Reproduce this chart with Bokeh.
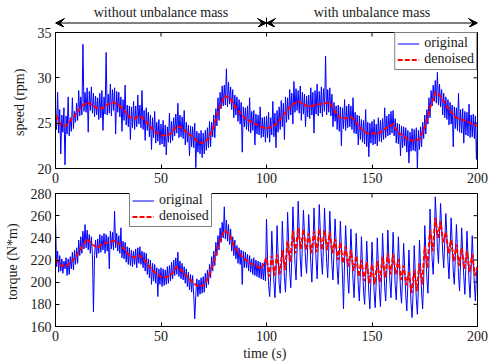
import math
import numpy as np
from bokeh.plotting import figure
from bokeh.layouts import column
from bokeh.models import (Range1d, Legend, LegendItem, Arrow, VeeHead, FixedTicker)
from bokeh.embed import file_html
from bokeh.resources import INLINE
from bokeh.core.properties import value

FONT = "'Liberation Serif', 'Times New Roman', serif"

# ---------------- data ----------------
segment_edges = [0, 100, 200]
segment_labels = ["without unbalance mass", "with unbalance mass"]

x_ticks = [0, 50, 100, 150, 200]
speed_ticks = [20, 25, 30, 35]
torque_ticks = [160, 180, 200, 220, 240, 260, 280]

speed_original = [
    26.8, 24.3, 28.4, 23.9, 26.5, 21.6, 25.9, 24.0, 26.7, 20.4, 25.8, 23.8, 27.9, 23.6, 25.6, 24.1, 27.8, 24.4, 26.3, 25.1,
    27.2, 25.3, 28.6, 25.8, 27.9, 25.9, 33.7, 26.3, 28.4, 26.2, 28.9, 24.0, 28.5, 26.4, 29.0, 26.1, 28.3, 25.7, 28.0, 25.9,
    27.8, 25.4, 28.3, 25.6, 28.6, 24.2, 27.9, 26.0, 32.8, 25.9, 28.2, 26.1, 29.3, 25.8, 28.7, 26.4, 28.9, 23.8, 28.5, 26.2,
    28.4, 25.7, 27.9, 24.1, 27.6, 25.3, 29.2, 24.8, 27.0, 24.6, 26.9, 23.2, 26.8, 24.5, 27.4, 24.3, 26.9, 24.6, 28.1, 24.9,
    27.0, 24.5, 28.6, 24.3, 26.4, 23.1, 26.7, 24.2, 26.2, 23.5, 25.9, 22.1, 25.6, 23.4, 26.3, 22.8, 25.1, 23.0, 25.4, 22.6,
    24.9, 22.7, 25.3, 22.4, 24.8, 21.5, 24.6, 22.9, 26.1, 22.8, 25.2, 23.1, 25.6, 23.6, 26.0, 23.9, 27.2, 23.4, 25.9, 23.5,
    25.7, 23.3, 26.4, 22.6, 25.1, 22.9, 24.8, 21.4, 24.7, 22.4, 24.6, 22.3, 25.0, 20.1, 24.1, 21.8, 23.9, 21.6, 24.2, 21.2,
    23.9, 21.6, 24.2, 22.0, 24.5, 22.3, 25.2, 22.4, 25.1, 23.5, 25.9, 23.4, 26.6, 24.7, 27.8, 25.3, 28.4, 26.6, 29.1, 26.9,
    29.2, 27.0, 31.0, 26.8, 29.5, 27.1, 29.0, 26.5, 28.7, 25.6, 28.1, 25.9, 27.9, 25.2, 27.6, 24.9, 27.3, 21.8, 26.8, 24.6,
    26.7, 24.3, 26.9, 24.1, 27.8, 23.9, 26.3, 24.2, 26.4, 22.6, 26.0, 23.8, 25.9, 23.7, 26.8, 23.4, 25.6, 23.5, 25.7, 22.9,
    25.8, 23.4, 26.2, 22.9, 25.6, 23.7, 27.4, 23.5, 26.1, 22.3, 26.4, 24.0, 26.8, 24.3, 27.5, 24.6, 27.2, 23.2, 27.9, 25.1,
    27.8, 25.4, 28.7, 25.9, 28.3, 24.9, 29.6, 26.2, 28.8, 26.4, 28.6, 26.1, 29.1, 25.3, 28.4, 26.0, 28.2, 24.6, 28.0, 25.7,
    28.1, 25.5, 28.9, 25.9, 28.4, 23.9, 28.6, 26.0, 29.3, 25.8, 28.5, 26.1, 29.0, 25.7, 28.8, 26.3, 32.4, 25.9, 28.7, 26.2,
    28.9, 25.8, 28.2, 24.6, 27.3, 25.2, 26.9, 24.3, 27.0, 24.1, 26.8, 22.5, 26.7, 24.4, 27.6, 24.2, 26.9, 24.5, 27.1, 24.6,
    26.9, 24.3, 27.8, 23.9, 26.2, 23.8, 25.9, 22.6, 25.8, 23.2, 25.4, 22.9, 25.3, 22.7, 26.5, 22.4, 25.1, 21.3, 25.0, 22.8,
    25.2, 22.6, 25.4, 22.7, 24.9, 22.5, 25.6, 23.0, 25.3, 22.9, 25.5, 23.2, 26.7, 23.4, 25.8, 23.6, 26.0, 23.7, 26.3, 23.9,
    26.4, 23.6, 25.5, 22.8, 25.0, 22.7, 24.9, 21.4, 24.7, 22.3, 24.6, 22.5, 24.5, 21.8, 24.2, 20.6, 24.0, 21.9, 24.4, 22.0,
    24.3, 21.9, 24.5, 20.0, 24.2, 22.1, 24.6, 22.4, 25.1, 23.3, 25.9, 23.8, 26.5, 24.9, 27.8, 25.6, 28.6, 26.9, 29.2, 27.4,
    29.7, 27.2, 30.6, 27.0, 29.3, 26.8, 28.7, 25.9, 28.3, 25.6, 27.9, 25.4, 27.6, 24.8, 27.3, 24.9, 27.0, 22.4, 26.8, 24.4,
    26.7, 24.2, 28.3, 24.0, 26.5, 23.9, 26.6, 22.8, 26.3, 23.7, 26.2, 23.6, 27.1, 23.4, 25.9, 23.5, 26.0, 23.3, 25.8, 21.0,
    25.6,
]

speed_denoised = [
    25.9, 24.8, 24.7, 25.4, 26.1, 26.9, 27.3, 27.0, 26.6, 26.7,
    27.1, 27.3, 27.0, 26.4, 25.7, 25.5, 25.8, 25.3, 24.6, 24.0,
    23.7, 23.6, 23.9, 24.7, 24.5, 23.9, 23.5, 22.9, 22.8, 23.3,
    24.6, 26.5, 28.0, 27.8, 26.9, 26.1, 25.5, 25.2, 24.9, 24.6,
    24.4, 24.6, 25.0, 25.7, 26.5, 27.1, 27.4, 27.1, 26.8, 27.0,
    27.1, 27.2, 27.3, 26.2, 25.6, 25.5, 25.7, 25.1, 24.3, 23.9,
    23.9, 23.8, 24.1, 24.6, 24.9, 23.9, 23.6, 23.1, 23.1, 23.2,
    24.6, 26.7, 28.4, 28.0, 27.0, 26.2, 25.6, 25.4, 25.2, 24.9,
    24.7,
]

torque_original_first = [
    256, 214, 228, 209, 224, 210, 221, 208, 219, 212, 222, 206, 221, 207, 223, 212, 227, 211, 229, 216,
    231, 217, 238, 224, 241, 226, 246, 230, 252, 231, 247, 229, 243, 226, 241, 225, 173, 224, 238, 222,
    239, 226, 243, 227, 242, 229, 244, 226, 243, 228, 241, 212, 246, 230, 245, 229, 264, 231, 244, 228,
    242, 226, 249, 222, 237, 221, 236, 218, 232, 216, 231, 215, 229, 214, 228, 216, 230, 213, 231, 217,
    232, 216, 228, 213, 227, 210, 226, 207, 221, 204, 220, 198, 217, 201, 216, 199, 213, 187, 212, 198,
    213, 196, 212, 197, 211, 198, 214, 199, 215, 201, 218, 203, 220, 206, 222, 207, 227, 205, 219, 203,
    217, 202, 214, 199, 212, 196, 209, 193, 207, 191, 206, 188, 167, 189, 203, 187, 202, 189, 204, 190,
    205, 191, 208, 195, 211, 198, 216, 204, 223, 210, 228, 215, 236, 224, 242, 229, 249, 236, 254, 240,
    268, 239, 256, 237, 252, 234, 248, 228, 241, 224, 238, 221, 233, 217, 231, 216, 229, 198, 228, 213,
    227, 213, 225, 210, 224, 209, 221, 207, 222, 206, 220, 205, 219, 204, 218, 203, 217, 202, 218, 201,
]

torque_original_second = [
    257, 221, 197, 187, 207,  246, 223, 200, 186, 209,  251, 225, 198, 190, 211,  255, 229, 204, 191, 215,
    263, 236, 209, 195, 222,  268, 243, 216, 202, 230,  273, 247, 222, 205, 234,  265, 244, 219, 208, 231,
    261, 240, 217, 200, 228,  267, 242, 220, 203, 231,  270, 246, 222, 207, 233,  267, 243, 219, 204, 230,
    264, 240, 216, 202, 229,  257, 236, 212, 198, 224,  255, 231, 207, 176, 219,  251, 228, 204, 190, 216,
    248, 225, 202, 186, 212,  244, 220, 197, 183, 209,  241, 216, 192, 180, 205,  237, 214, 190, 176, 203,
    236, 213, 191, 177, 200,  240, 217, 193, 178, 204,  244, 221, 195, 183, 208,  247, 222, 200, 186, 211,
    245, 221, 197, 184, 209,  241, 217, 193, 181, 206,  235, 212, 188, 174, 199,  229, 205, 181, 168, 192,
    233, 209, 185, 171, 196,  238, 215, 191, 176, 202,  251, 228, 204, 190, 217,  266, 243, 221, 207, 232,
    277, 256, 231, 217, 244,  271, 250, 227, 213, 238,  262, 241, 219, 203, 230,  258, 236, 210, 198, 223,
    252, 230, 206, 192, 219,  249, 227, 205, 189, 214,  246, 224, 200, 186, 213,  242, 221, 199, 183, 208,
    214,
]

torque_denoised_first = [
    221, 215, 214.5, 218, 224, 232, 239, 234, 231, 235,
    235.5, 237.5, 235, 230, 224, 222, 224, 219, 213, 208,
    205, 204.5, 207, 214, 210, 205, 200, 196, 197, 204,
    218, 235, 247, 243, 231, 224.6, 220.5, 217, 214.5, 212,
]

torque_denoised_second = [
    222, 205, 224, 206, 225, 207, 229, 211, 237, 218,
    246, 226, 249, 230, 248, 229, 244, 226, 246, 227,
    248, 229, 247, 229, 245, 226, 239, 220, 236, 217,
    232, 214, 229, 210, 224, 205, 220, 201, 218, 199,
    216, 198, 219, 200, 223, 204, 226, 207, 225, 207,
    221, 202, 215, 197, 209, 190, 211, 192, 217, 198,
    232, 213, 247, 228, 258, 240, 255, 236, 245, 226,
    238, 219, 234, 215, 231, 212, 228, 209, 225, 206,
    214,
]

# time bases (sample instants)
t_speed_orig = np.linspace(0, 200, len(speed_original))
t_speed_dn = np.linspace(0, 200, len(speed_denoised))
torque_original = torque_original_first + torque_original_second
t_torque_orig = np.linspace(0, 200, len(torque_original))
torque_denoised = torque_denoised_first + torque_denoised_second
t_torque_dn = np.concatenate([np.linspace(0, 97.5, len(torque_denoised_first)),
                              np.linspace(100, 200, len(torque_denoised_second))])

# ---------------- styling / layout ----------------
BLUE = "#0000ff"
RED = "#ff0000"
INK = "#1a1a1a"
W = 488
ML, MR = 55, 11
HDR_H = 27
xr = Range1d(segment_edges[0], segment_edges[-1])


def style_axis(ax, ticks):
    ax.ticker = FixedTicker(ticks=ticks)
    ax.major_tick_in = 4
    ax.major_tick_out = 0
    ax.minor_tick_line_color = None
    ax.axis_line_color = "black"
    ax.major_tick_line_color = "black"
    ax.major_label_text_font = FONT
    ax.major_label_text_font_size = "14px"
    ax.major_label_text_color = INK
    ax.major_label_standoff = 4
    ax.axis_label_text_font = FONT
    ax.axis_label_text_font_size = "14px"
    ax.axis_label_text_font_style = "normal"
    ax.axis_label_text_color = INK


def make_panel(height, yr, yticks, ylabel, top_border, bottom_border, xlabel=None):
    p = figure(width=W, height=height, x_range=xr, y_range=Range1d(*yr),
               min_border_left=ML, min_border_right=MR, min_border_top=top_border,
               min_border_bottom=bottom_border, toolbar_location=None,
               output_backend="svg")
    p.grid.visible = False
    p.outline_line_color = "black"
    p.background_fill_color = "white"
    p.border_fill_color = "white"
    style_axis(p.xaxis[0], x_ticks)
    style_axis(p.yaxis[0], yticks)
    p.yaxis[0].axis_label = ylabel
    p.yaxis[0].axis_label_standoff = 8
    if xlabel:
        p.xaxis[0].axis_label = xlabel
        p.xaxis[0].axis_label_standoff = 2
    # mirrored inward ticks on the top and right edges (half of each dash is clipped)
    p.scatter(x=x_ticks, y=[yr[1]] * len(x_ticks), marker="dash", size=8,
              angle=math.pi / 2, line_color="black", line_width=1)
    p.scatter(x=[xr.end] * len(yticks), y=yticks, marker="dash", size=8,
              line_color="black", line_width=1)
    return p


def add_legend(p, r1, r2, location):
    leg = Legend(items=[LegendItem(label="original", renderers=[r1]),
                        LegendItem(label="denoised", renderers=[r2])],
                 location=location)
    leg.margin = 0
    leg.padding = 2
    leg.spacing = 0
    leg.label_standoff = 5
    leg.glyph_width = 22
    leg.glyph_height = 15
    leg.label_height = 15
    leg.label_text_font = FONT
    leg.label_text_font_size = "14px"
    leg.label_text_color = INK
    leg.border_line_color = "black"
    leg.border_line_width = 1
    leg.background_fill_color = "white"
    leg.background_fill_alpha = 1
    p.add_layout(leg)


# ---------------- header with arrows ----------------
hdr = figure(width=W, height=HDR_H, x_range=xr, y_range=Range1d(0, HDR_H),
             min_border_left=ML, min_border_right=MR, min_border_top=0, min_border_bottom=0,
             toolbar_location=None, output_backend="svg", x_axis_type=None, y_axis_type=None)
hdr.grid.visible = False
hdr.outline_line_color = None
hdr.background_fill_color = "white"
hdr.border_fill_color = "white"
arrow_y = HDR_H - 22.5   # header uses pixel units on its y axis
for i in range(len(segment_labels)):
    a, b = segment_edges[i], segment_edges[i + 1]
    hdr.add_layout(Arrow(x_start=a, x_end=b, y_start=arrow_y, y_end=arrow_y,
                         line_color="black", line_width=1,
                         start=VeeHead(size=9, fill_color="black", line_color="black", line_width=1),
                         end=VeeHead(size=9, fill_color="black", line_color="black", line_width=1)))
mids = [(segment_edges[i] + segment_edges[i + 1]) / 2 for i in range(len(segment_labels))]
hdr.text(x=mids, y=[HDR_H - 12] * len(mids), text=segment_labels, text_align="center",
         text_baseline="middle", text_font=value(FONT), text_font_size="14px",
         text_color=INK)
inner = segment_edges[1:-1]
hdr.segment(x0=inner, y0=[0] * len(inner), x1=inner, y1=[HDR_H - 17] * len(inner),
            line_color="black", line_width=1)

# ---------------- speed panel ----------------
TOP_FRAME_H = 136
p1_h = 5 + TOP_FRAME_H + 20
p1 = make_panel(p1_h, (20, 35), speed_ticks, "speed  (rpm)", 5, 20)
r1 = p1.line(t_speed_orig, speed_original, line_color=BLUE, line_width=1)
r2 = p1.line(t_speed_dn, speed_denoised, line_color=RED, line_width=2, line_dash="5 2")
add_legend(p1, r1, r2, "top_right")

# ---------------- torque panel ----------------
p2 = make_panel(364 - HDR_H - p1_h, (160, 280), torque_ticks,
                "torque  (N*m)", 5, 38, xlabel="time  (s)")
r3 = p2.line(t_torque_orig, torque_original, line_color=BLUE, line_width=1)
r4 = p2.line(t_torque_dn, torque_denoised, line_color=RED, line_width=2, line_dash="5 2")
add_legend(p2, r3, r4, (74, 99))

layout = column(hdr, p1, p2, spacing=0)
open("out.html", "w").write(file_html(layout, INLINE))
